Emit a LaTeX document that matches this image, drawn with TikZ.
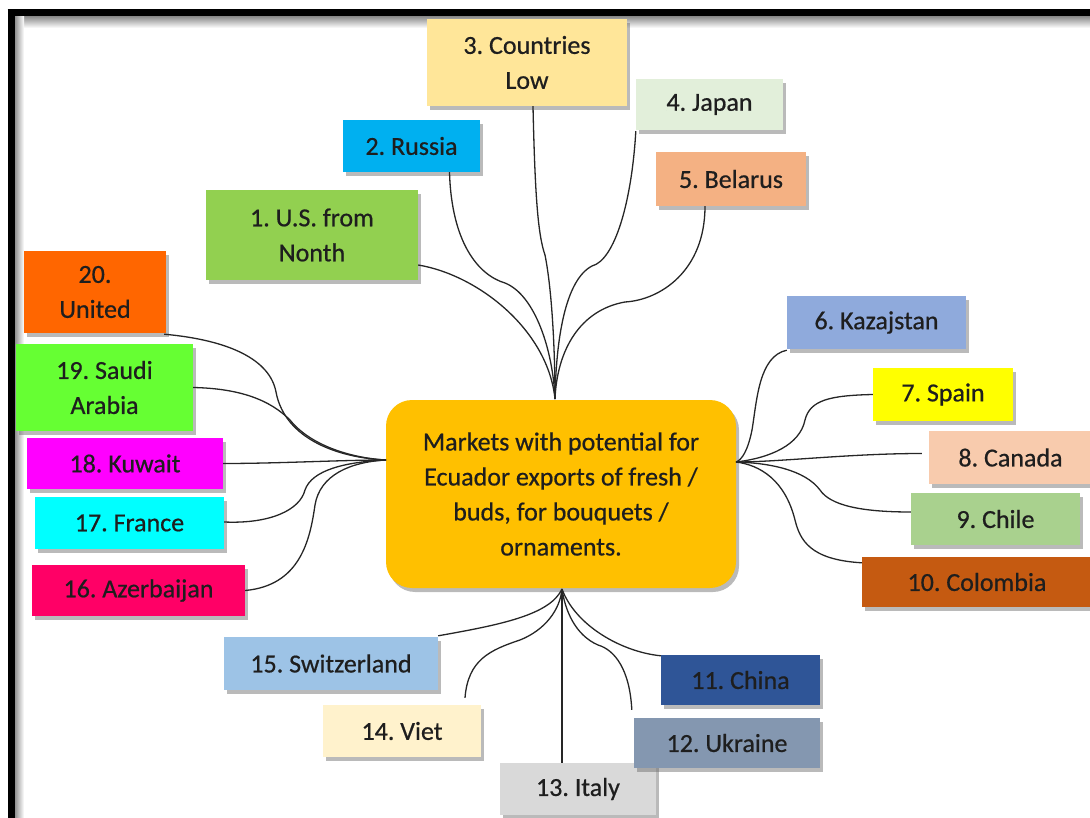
\documentclass[tikz,border=0pt]{standalone}
\usepackage{fontspec}
\setmainfont{Carlito}[FakeBold=0.6]
\usetikzlibrary{shadows}
\definecolor{c1}{HTML}{92D050}
\definecolor{c2}{HTML}{00B0F0}
\definecolor{c3}{HTML}{FFE699}
\definecolor{c4}{HTML}{E2EFDA}
\definecolor{c5}{HTML}{F4B183}
\definecolor{c6}{HTML}{8FAADC}
\definecolor{c7}{HTML}{FFFF00}
\definecolor{c8}{HTML}{F8CBAD}
\definecolor{c9}{HTML}{A9D18E}
\definecolor{c10}{HTML}{C55A11}
\definecolor{c11}{HTML}{2F5597}
\definecolor{c12}{HTML}{8497B0}
\definecolor{c13}{HTML}{D9D9D9}
\definecolor{c14}{HTML}{FFF2CC}
\definecolor{c15}{HTML}{9DC3E6}
\definecolor{c16}{HTML}{FF0066}
\definecolor{c17}{HTML}{00FFFF}
\definecolor{c18}{HTML}{FF00FF}
\definecolor{c19}{HTML}{66FF33}
\definecolor{c20}{HTML}{FF6600}
\definecolor{hubc}{HTML}{FFC000}
\definecolor{txt}{HTML}{1E1E1E}
\tikzset{
  box/.style={rectangle, draw=none, inner sep=0pt, align=center, text=txt,
    font=\fontsize{26}{35}\selectfont\frenchspacing,
    drop shadow={shadow xshift=3pt, shadow yshift=-4pt, opacity=0.45, fill=black!60}},
  hubbox/.style={rectangle, rounded corners=26pt, fill=hubc, inner sep=0pt, align=center, text=txt,
    font=\fontsize{26}{35}\selectfont\frenchspacing,
    drop shadow={shadow xshift=3pt, shadow yshift=-4pt, opacity=0.45, fill=black!60}},
  link/.style={draw=black!85, line width=1.3pt},
  frameline/.style={draw=black, line width=7pt}
}
\begin{document}
\begin{tikzpicture}[x=1pt,y=-1pt]
\useasboundingbox (0,0) rectangle (1090,818);
% frame
\shade[top color=black!45, bottom color=white] (8,16.5) rectangle (1090,28);
\shade[left color=black!45, right color=white] (14.5,16.5) rectangle (24,818);
\draw[frameline] (7.5,13) -- (1090,13);
\draw[frameline] (11,9.5) -- (11,818);
% center
\node[hubbox, minimum width=350pt, minimum height=188pt] (hub) at (561,494)
  {Markets with potential for\\Ecuador exports of fresh /\\buds, for bouquets /\\ornaments.};
\coordinate (ht) at (555,399);
\coordinate (hl) at (386,460);
\coordinate (hr) at (736,462);
\coordinate (hb) at (562,589);
% boxes
\node[box, fill=c3, minimum width=200pt, minimum height=87pt] (n3) at (527,62.5) {3. Countries\\Low};
\node[box, fill=c4, minimum width=147pt, minimum height=51pt] (n4) at (709.5,104.5) {4. Japan};
\node[box, fill=c2, minimum width=137pt, minimum height=52pt] (n2) at (411.5,146) {2. Russia};
\node[box, fill=c5, minimum width=150pt, minimum height=54pt] (n5) at (731,179) {5. Belarus};
\node[box, fill=c1, minimum width=212pt, minimum height=90pt] (n1) at (312,235) {1. U.S. from\\Nonth};
\node[box, fill=c20, minimum width=142pt, minimum height=82pt] (n20) at (95,292) {20.\\United};
\node[box, fill=c19, minimum width=177pt, minimum height=87pt] (n19) at (104.5,387.5) {19. Saudi\\Arabia};
\node[box, fill=c18, minimum width=196pt, minimum height=51pt] (n18) at (125,463.5) {18. Kuwait};
\node[box, fill=c17, minimum width=189pt, minimum height=52pt] (n17) at (129.5,523) {17. France};
\node[box, fill=c16, minimum width=213pt, minimum height=51pt] (n16) at (138.5,590.5) {16. Azerbaijan};
\node[box, fill=c15, minimum width=214pt, minimum height=53pt] (n15) at (331,663.5) {15. Switzerland};
\node[box, fill=c14, minimum width=158pt, minimum height=52pt] (n14) at (402,731) {14. Viet};
\node[box, fill=c13, minimum width=156pt, minimum height=52pt] (n13) at (578,789) {13. Italy};
\node[box, fill=c12, minimum width=186pt, minimum height=50pt] (n12) at (727,743) {12. Ukraine};
\node[box, fill=c11, minimum width=159pt, minimum height=50pt] (n11) at (740.5,680) {11. China};
\node[box, fill=c10, minimum width=230pt, minimum height=50pt] (n10) at (977,582) {10. Colombia};
\node[box, fill=c9, minimum width=169pt, minimum height=52pt] (n9) at (995.5,519) {9. Chile};
\node[box, fill=c8, minimum width=163pt, minimum height=53pt] (n8) at (1010.5,457.5) {8. Canada};
\node[box, fill=c7, minimum width=140pt, minimum height=53pt] (n7) at (943,394.5) {7. Spain};
\node[box, fill=c6, minimum width=179pt, minimum height=53pt] (n6) at (876.5,322.5) {6. Kazajstan};
% top links
\draw[link] ([yshift=-30pt]n1.east) .. controls +(60,10) and (548,330) .. (ht);
\draw[link] ([xshift=38pt]n2.south) .. controls +(2,70) and (478,275) .. (505,283) .. controls (535,295) and (553,350) .. (ht);
\draw[link] ([xshift=6pt]n3.south) .. controls +(2,90) and (538,235) .. (545,255) .. controls (552,290) and (555,350) .. (ht);
\draw[link] ([yshift=-1pt]n4.south west) .. controls +(-4,70) and (615,260) .. (592,266) .. controls (565,280) and (556,340) .. (ht);
\draw[link] ([xshift=-26pt]n5.south) .. controls +(0,65) and (660,300) .. (625,302) .. controls (580,310) and (557,350) .. (ht);
% left links
\draw[link] ([xshift=-2pt,yshift=-1pt]n20.south east) .. controls +(66,6) and (270,360) .. (276,392) .. controls (285,440) and (340,458) .. (hl);
\draw[link] (n19.east) .. controls +(47,1) and (270,400) .. (290,420) .. controls (310,445) and (350,458) .. (hl);
\draw[link] (n18.east) .. controls +(57,0) and (340,460) .. (hl);
\draw[link] ([yshift=1pt]n17.east) .. controls +(46,2) and (300,510) .. (305,490) .. controls (312,470) and (345,462) .. (hl);
\draw[link] (n16.east) .. controls +(55,-5) and (310,540) .. (315,505) .. controls (320,475) and (350,462) .. (hl);
% right links
\draw[link] ([yshift=-1pt]n6.south west) .. controls +(-28,6) and (757,400) .. (752,430) .. controls (748,450) and (742,460) .. (hr);
\draw[link] (n7.west) .. controls +(-43,1) and (810,400) .. (805,420) .. controls (800,445) and (770,458) .. (hr);
\draw[link] ([xshift=-7pt,yshift=4pt]n8.west) .. controls +(-72,0) and (780,462) .. (hr);
\draw[link] ([yshift=7pt]n9.west) .. controls +(-51,0) and (830,505) .. (820,490) .. controls (805,470) and (770,463) .. (hr);
\draw[link] ([yshift=-6pt]n10.north west) .. controls +(-52,-3) and (800,540) .. (795,520) .. controls (785,480) and (760,465) .. (hr);
% bottom links
\draw[link] ([yshift=1pt]n15.north east) .. controls +(62,-11) and (550,615) .. (hb);
\draw[link] ([xshift=63pt,yshift=7pt]n14.north) .. controls +(3,-38) and (490,650) .. (520,640) .. controls (545,630) and (560,610) .. (hb);
\draw[link] ([xshift=-16pt]n13.north) -- (hb);
\draw[link] ([xshift=-2pt,yshift=8pt]n12.north west) .. controls +(-2,-40) and (615,650) .. (598,645) .. controls (575,635) and (565,610) .. (hb);
\draw[link] ([yshift=-1pt]n11.north west) .. controls +(-40,-4) and (575,625) .. (hb);
\end{tikzpicture}
\end{document}
